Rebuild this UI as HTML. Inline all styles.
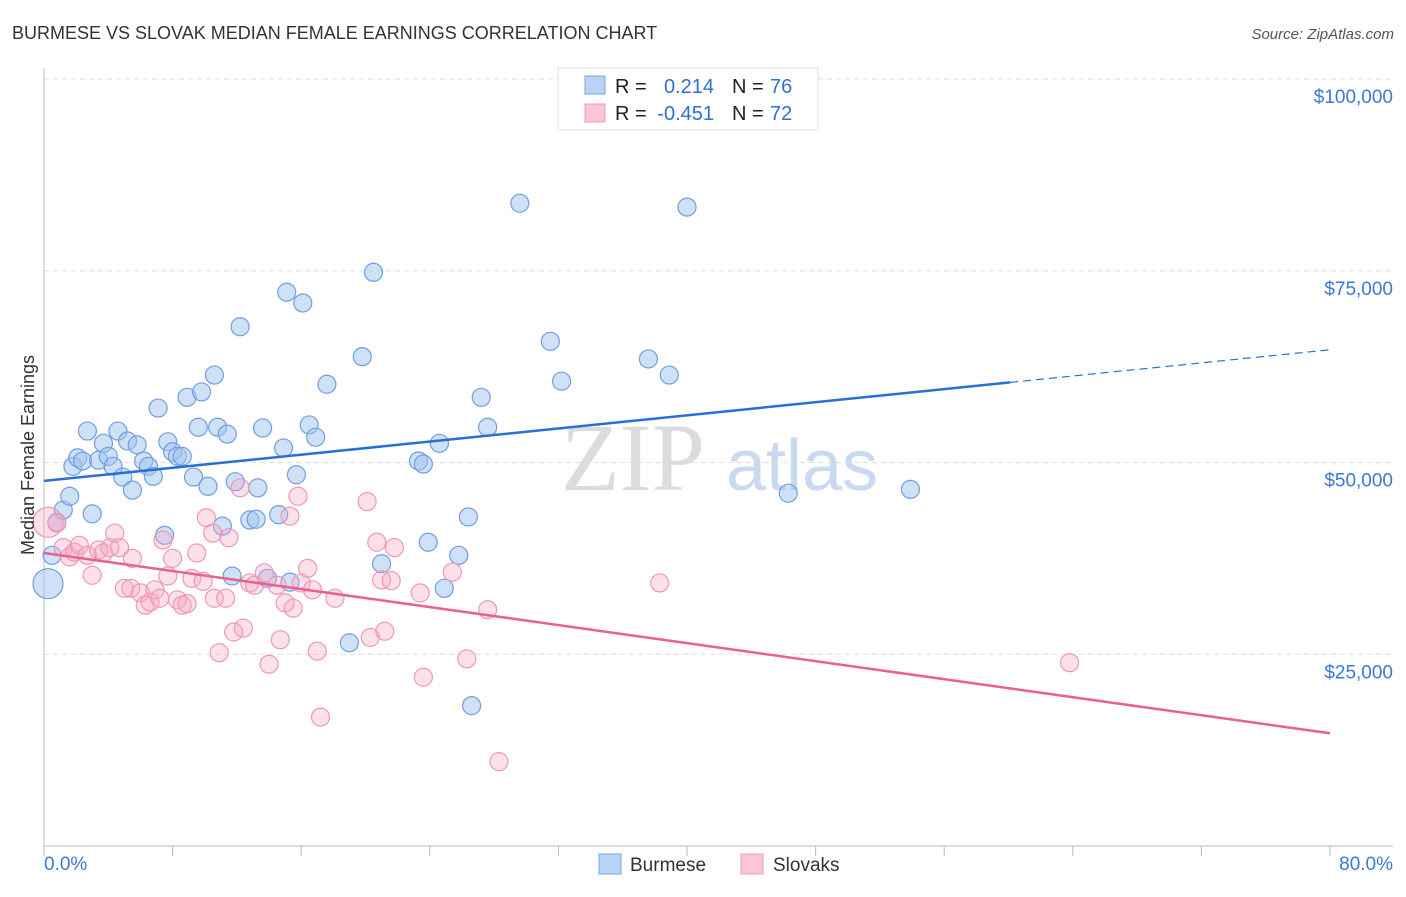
<!DOCTYPE html>
<html><head><meta charset="utf-8"><style>
body{margin:0;background:#fff;font-family:"Liberation Sans",sans-serif;}
</style></head><body>
<svg id="chart" width="1406" height="892" xmlns="http://www.w3.org/2000/svg" font-family="Liberation Sans, sans-serif">
<text x="12" y="39" font-size="18" fill="#333">BURMESE VS SLOVAK MEDIAN FEMALE EARNINGS CORRELATION CHART</text>
<text x="1394" y="39" font-size="15" fill="#555" font-style="italic" text-anchor="end">Source: ZipAtlas.com</text>
<g>
<text x="633" y="490" font-size="96" font-family="Liberation Serif, serif" fill="#dcdcdc" text-anchor="middle">ZIP</text>
<text x="802" y="490" font-size="72" fill="#c9d9f0" text-anchor="middle">atlas</text>
</g>
<g id="grid"></g>
<g id="axes"></g>
<g id="marks"></g>
<text transform="translate(34,455) rotate(-90)" font-size="18" fill="#333" text-anchor="middle">Median Female Earnings</text>
<g>
<rect x="558" y="68" width="260" height="62" fill="#fff" stroke="#ddd"/>
<rect x="585" y="76" width="20" height="18" fill="#b9d3f4" stroke="#7aa6e3"/>
<rect x="585" y="104" width="20" height="18" fill="#f9c6d4" stroke="#ee9ab3"/>
<text x="615" y="93" font-size="20" fill="#222">R = </text>
<text x="714" y="93" font-size="20" fill="#2f6fd6" text-anchor="end">0.214</text>
<text x="732" y="93" font-size="20" fill="#222">N = </text>
<text x="770" y="93" font-size="20" fill="#2f6fd6">76</text>
<text x="615" y="120" font-size="20" fill="#222">R = </text>
<text x="714" y="120" font-size="20" fill="#2f6fd6" text-anchor="end">-0.451</text>
<text x="732" y="120" font-size="20" fill="#222">N = </text>
<text x="770" y="120" font-size="20" fill="#2f6fd6">72</text>
</g>
<g>
<rect x="599" y="854" width="22" height="20" fill="#b9d3f4" stroke="#7aa6e3"/>
<text x="630" y="871" font-size="19" fill="#333">Burmese</text>
<rect x="741" y="854" width="22" height="20" fill="#f9c6d4" stroke="#ee9ab3"/>
<text x="773" y="871" font-size="19" fill="#333">Slovaks</text>
</g>
</svg>
<script>
const yTicks=[25000,50000,75000,100000];
const yTickLabels=["$25,000","$50,000","$75,000","$100,000"];
const xTickValues=[0,8,16,24,32,40,48,56,64,72,80];
const xEndLabels=["0.0%","80.0%"];
const burmeseX=[0.25,0.5,0.8,1.2,1.6,1.8,2.1,2.4,2.7,3.0,3.4,3.7,4.0,4.3,4.6,4.9,5.2,5.5,5.8,6.2,6.5,6.8,7.1,7.5,7.7,8.0,8.3,8.6,8.9,9.3,9.6,9.8,10.2,10.6,10.8,11.1,11.4,11.7,11.9,12.2,12.8,13.2,13.3,13.6,13.9,14.6,14.9,15.1,15.3,15.7,16.1,16.5,16.9,17.6,19.0,19.8,20.5,21.0,23.3,23.6,23.9,24.6,24.9,25.8,26.4,26.6,27.2,27.6,29.6,31.5,32.2,37.6,38.9,40.0,46.3,53.9];
const burmeseY=[34.2,37.9,42.2,43.8,45.6,49.5,50.6,50.2,54.1,43.3,50.3,52.5,50.8,49.5,54.1,48.1,52.8,46.4,52.3,50.2,49.5,48.2,57.1,40.5,52.7,51.4,50.8,50.8,58.5,48.1,54.6,59.2,46.9,61.4,54.6,41.7,53.7,35.2,47.5,67.7,42.5,42.6,46.7,54.5,34.9,43.2,51.9,72.2,34.4,48.4,70.8,54.9,53.3,60.2,26.5,63.8,74.8,36.8,50.2,49.8,39.6,52.5,33.6,37.9,42.9,18.3,58.5,54.6,83.8,65.8,60.6,63.5,61.4,83.3,46.0,46.5];
const slovakX=[0.25,0.8,1.2,1.6,1.9,2.2,2.7,3.0,3.4,3.7,4.1,4.4,4.7,5.0,5.4,5.5,6.0,6.3,6.6,6.9,7.2,7.4,7.7,8.0,8.3,8.6,8.9,9.2,9.5,9.9,10.1,10.5,10.6,10.9,11.3,11.5,11.8,12.2,12.4,12.8,13.1,13.7,14.0,14.5,14.7,15.0,15.3,15.5,15.8,16.0,16.4,16.7,17.0,17.2,18.1,20.1,20.3,20.7,21.0,21.2,21.6,21.8,23.4,23.6,25.4,26.3,27.6,28.3,38.3,63.8];
const slovakY=[42.2,42.1,38.9,37.7,38.3,39.2,37.9,35.3,38.6,38.2,38.9,40.8,38.9,33.6,33.6,37.5,33.0,31.4,31.8,33.4,32.3,39.9,35.2,37.5,32.1,31.4,31.6,34.9,38.2,34.5,42.8,40.8,32.3,25.2,32.3,40.2,27.9,46.7,28.4,34.3,34.0,35.6,23.7,34.0,26.9,31.7,43.0,31.0,45.6,34.3,36.2,33.4,25.4,16.8,32.3,44.9,27.2,39.6,34.7,28.0,34.6,38.9,33.0,22.0,35.7,24.4,30.8,11.0,34.3,23.9];
const burmeseTrend=[47.6,64.7];
const slovakTrend=[38.2,14.7];
const trendSolidEnd=60.1;

const NS="http://www.w3.org/2000/svg";
const X0=44,X1=1330,Y0=846,Ytop=79;
const sx=v=>X0+(v/80)*(X1-X0);
const sy=v=>Y0-(v/100000)*(Y0-Ytop);
function mk(tag,attrs,parent){const e=document.createElementNS(NS,tag);for(const k in attrs)e.setAttribute(k,attrs[k]);parent.appendChild(e);return e;}
const grid=document.getElementById('grid'),axes=document.getElementById('axes'),marks=document.getElementById('marks');
yTicks.forEach((t,i)=>{
 const l=mk('line',{x1:X0,x2:1393,y1:sy(t),y2:sy(t),stroke:'#ddd','stroke-dasharray':'5,4'},grid);
 
 
 const tx=mk('text',{x:1393,y:sy(t)+24,'font-size':19,fill:'#3b78d8','text-anchor':'end'},axes);
 tx.textContent=yTickLabels[i];
 
 
});
const ya=mk('line',{x1:X0,x2:X0,y1:68,y2:Y0,stroke:'#bbb'},axes);


const xa=mk('line',{x1:X0,x2:1393,y1:Y0,y2:Y0,stroke:'#bbb'},axes);


xTickValues.forEach(v=>{
 const t=mk('line',{x1:sx(v),x2:sx(v),y1:Y0,y2:Y0+10,stroke:'#bbb'},axes);
 
 
});
const xl0=mk('text',{x:44,y:870,'font-size':19,fill:'#3b78d8'},axes);xl0.textContent=xEndLabels[0];


const xl1=mk('text',{x:1393,y:870,'font-size':19,fill:'#3b78d8','text-anchor':'end'},axes);xl1.textContent=xEndLabels[1];


function pts(xs,ys,fill,stroke,name){
 xs.forEach((x,i)=>{
  const big=i===0;
  const c=mk('circle',{cx:sx(x),cy:sy(ys[i]*1000),r:big?15:9,fill:fill,stroke:stroke,'stroke-width':1.2},marks);
  
  
 });
}
pts(burmeseX,burmeseY,'rgba(160,196,240,0.5)','#6f9fe0','burmese-point');
pts(slovakX,slovakY,'rgba(246,170,195,0.35)','#ef98b4','slovak-point');
const by=x=>burmeseTrend[0]+(burmeseTrend[1]-burmeseTrend[0])*x/80;
const bl=mk('line',{x1:sx(0),y1:sy(by(0)*1000),x2:sx(trendSolidEnd),y2:sy(by(trendSolidEnd)*1000),stroke:'#2a6fd6','stroke-width':2.5},marks);


const bd=mk('line',{x1:sx(trendSolidEnd),y1:sy(by(trendSolidEnd)*1000),x2:sx(80),y2:sy(by(80)*1000),stroke:'#2a6fd6','stroke-width':1.2,'stroke-dasharray':'8,5'},marks);


const pl=mk('line',{x1:sx(0),y1:sy(slovakTrend[0]*1000),x2:sx(80),y2:sy(slovakTrend[1]*1000),stroke:'#e8618f','stroke-width':2.5},marks);


</script>
</body></html>
